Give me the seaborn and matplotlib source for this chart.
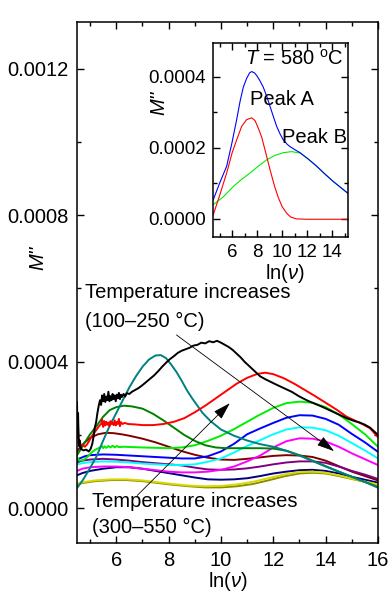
import numpy as np
import pandas as pd
import matplotlib
matplotlib.use("Agg")
import matplotlib.pyplot as plt
from matplotlib.ticker import MultipleLocator, FormatStrFormatter
import seaborn as sns

# ---------------- data (y values in units of 1e-4) ----------------
black_x = [4.50, 4.52, 4.54, 4.57, 4.60, 4.65, 4.75, 4.85, 4.95, 5.02, 5.08, 5.12, 5.18, 5.23, 5.28, 5.33,
           5.38, 5.42, 5.46, 5.50, 5.54, 5.58, 5.62, 5.66, 5.70, 5.74, 5.78, 5.82, 5.86, 5.90, 5.94, 5.98,
           6.02, 6.06, 6.10, 6.14, 6.18, 6.22, 6.28, 6.34, 6.40, 6.50, 6.60, 6.70, 6.85, 7.00, 7.15, 7.30,
           7.45, 7.60, 7.75, 7.90, 8.05, 8.20, 8.35, 8.50, 8.65, 8.80, 8.95, 9.10, 9.25, 9.40, 9.55, 9.70,
           9.85, 10.00, 10.15, 10.30, 10.45, 10.60, 10.75, 10.90, 11.05, 11.20, 11.35, 11.50, 11.70, 11.90,
           12.10, 12.40, 12.70, 13.00, 13.30, 13.60, 13.90, 14.20, 14.50, 14.80, 15.10, 15.30, 15.50, 15.70,
           15.85, 16.00]
black_y = [2.90, 1.95, 2.60, 1.70, 1.85, 1.62, 1.58, 1.60, 1.55, 1.62, 1.75, 1.90, 2.20, 2.35, 2.60, 2.80,
           2.95, 2.82, 3.08, 2.92, 3.12, 2.90, 3.05, 2.95, 3.18, 2.92, 3.06, 2.95, 3.12, 2.98, 3.08, 2.92,
           3.10, 3.00, 3.15, 2.98, 3.10, 3.04, 3.12, 3.05, 3.14, 3.12, 3.18, 3.22, 3.28, 3.36, 3.45, 3.54,
           3.63, 3.74, 3.86, 3.97, 4.07, 4.15, 4.24, 4.30, 4.34, 4.38, 4.44, 4.46, 4.52, 4.50, 4.56, 4.53,
           4.57, 4.52, 4.46, 4.40, 4.32, 4.22, 4.12, 4.00, 3.90, 3.80, 3.70, 3.60, 3.52, 3.45,
           3.38, 3.28, 3.18, 3.05, 2.94, 2.85, 2.76, 2.66, 2.56, 2.46, 2.38, 2.34, 2.28, 2.20,
           2.10, 2.00]

red_x = [4.50, 4.52, 4.54, 4.56, 4.60, 4.65, 4.72, 4.80, 4.88, 4.95, 5.05, 5.15, 5.25, 5.35, 5.42, 5.46,
         5.50, 5.54, 5.58, 5.62, 5.66, 5.70, 5.74, 5.78, 5.82, 5.86, 5.90, 5.94, 5.98, 6.02, 6.06, 6.10,
         6.14, 6.18, 6.24, 6.32, 6.45, 6.70, 7.00, 7.40, 7.80, 8.20, 8.60, 9.00, 9.40, 9.80, 10.20, 10.60,
         11.00, 11.40, 11.70, 12.00, 12.40, 12.80, 13.20, 13.60, 14.00, 14.40, 14.80, 15.10, 15.40, 15.70,
         15.85, 16.00]
red_y = [2.15, 2.05, 2.20, 1.78, 1.85, 1.70, 1.72, 1.68, 1.74, 1.82, 1.95, 2.05, 2.15, 2.25, 2.30, 2.42,
         2.22, 2.38, 2.26, 2.36, 2.28, 2.34, 2.24, 2.38, 2.30, 2.34, 2.27, 2.40, 2.26, 2.36, 2.30, 2.44,
         2.24, 2.35, 2.30, 2.33, 2.30, 2.29, 2.27, 2.27, 2.30, 2.36, 2.46, 2.62, 2.80, 3.00, 3.20, 3.40,
         3.56, 3.67, 3.70, 3.66, 3.55, 3.40, 3.23, 3.06, 2.88, 2.70, 2.50, 2.40, 2.30, 2.18,
         2.06, 1.94]

lime_x = [4.50, 4.60, 4.75, 4.90, 5.05, 5.20, 5.35, 5.45, 5.50, 5.55, 5.62, 5.70, 5.78, 5.86, 5.94, 6.02,
          6.10, 6.30, 6.60, 7.00, 7.50, 8.00, 8.50, 9.00, 9.50, 10.00, 10.50, 11.00, 11.50, 12.00, 12.50,
          13.00, 13.50, 14.00, 14.50, 15.00, 15.50, 16.00]
lime_y = [1.40, 1.30, 1.32, 1.40, 1.52, 1.60, 1.65, 1.70, 1.64, 1.69, 1.65, 1.70, 1.66, 1.71, 1.66, 1.70,
          1.67, 1.68, 1.67, 1.66, 1.65, 1.64, 1.66, 1.72, 1.84, 1.98, 2.16, 2.36, 2.56, 2.74, 2.87,
          2.91, 2.88, 2.76, 2.56, 2.30, 2.02, 1.68]

blue_x = [4.50, 4.60, 4.80, 5.00, 5.50, 6.00, 6.50, 7.00, 7.50, 8.00, 8.50, 9.00, 9.50, 10.00, 10.50,
          11.00, 11.50, 12.00, 12.50, 13.00, 13.50, 14.00, 14.50, 15.00, 15.50, 16.00]
blue_y = [1.30, 1.36, 1.42, 1.45, 1.47, 1.46, 1.44, 1.42, 1.40, 1.38, 1.36, 1.36, 1.42, 1.55, 1.76,
          2.02, 2.18, 2.33, 2.47, 2.54, 2.53, 2.44, 2.28, 2.03, 1.80, 1.54]

cyan_x = [4.50, 4.70, 5.00, 5.50, 6.00, 6.50, 7.00, 7.50, 8.00, 8.50, 9.00, 9.50, 10.00, 10.50, 11.00,
          11.50, 12.00, 12.50, 13.00, 13.50, 14.00, 14.50, 15.00, 15.50, 16.00]
cyan_y = [1.20, 1.23, 1.26, 1.28, 1.27, 1.25, 1.22, 1.20, 1.18, 1.18, 1.20, 1.27, 1.36, 1.52, 1.70,
          1.86, 2.02, 2.15, 2.21, 2.20, 2.13, 1.98, 1.78, 1.58, 1.36]

magenta_x = [4.50, 4.70, 5.00, 5.50, 6.00, 6.50, 7.00, 7.50, 8.00, 8.50, 9.00, 9.50, 10.00, 10.50, 11.00,
             11.50, 12.00, 12.50, 13.00, 13.50, 14.00, 14.50, 15.00, 15.50, 16.00]
magenta_y = [1.02, 1.08, 1.12, 1.14, 1.14, 1.12, 1.08, 1.04, 1.00, 0.98, 0.98, 1.00, 1.05, 1.14, 1.28,
             1.44, 1.66, 1.83, 1.91, 1.90, 1.82, 1.68, 1.50, 1.34, 1.18]

purple_x = [4.50, 4.70, 5.00, 5.50, 6.00, 6.50, 7.00, 7.50, 8.00, 8.50, 9.00, 9.50, 10.00, 10.50, 11.00,
            11.50, 12.00, 12.50, 13.00, 13.50, 14.00, 14.50, 15.00, 15.50, 16.00]
purple_y = [1.25, 1.30, 1.33, 1.35, 1.33, 1.30, 1.26, 1.23, 1.20, 1.17, 1.11, 1.06, 1.05, 1.06, 1.09,
            1.14, 1.20, 1.25, 1.28, 1.28, 1.24, 1.14, 1.02, 0.92, 0.80]

navy_x = [4.50, 4.70, 5.00, 5.50, 6.00, 6.50, 7.00, 7.50, 8.00, 8.50, 9.00, 9.50, 10.00, 10.50, 11.00,
          11.50, 12.00, 12.50, 13.00, 13.50, 14.00, 14.50, 15.00, 15.50, 16.00]
navy_y = [0.90, 0.96, 1.02, 1.08, 1.12, 1.12, 1.08, 1.02, 0.96, 0.90, 0.84, 0.79, 0.78, 0.79, 0.82,
          0.88, 0.95, 1.00, 1.04, 1.05, 1.02, 0.95, 0.86, 0.78, 0.70]

olive_x = [4.50, 4.80, 5.20, 5.80, 6.40, 7.00, 7.60, 8.20, 8.80, 9.40, 10.00, 10.60, 11.20, 11.80, 12.40,
           13.00, 13.50, 14.00, 14.50, 15.00, 15.50, 16.00]
olive_y = [0.66, 0.70, 0.74, 0.77, 0.77, 0.74, 0.69, 0.64, 0.60, 0.57, 0.57, 0.60, 0.66, 0.76, 0.87,
           0.95, 0.97, 0.95, 0.88, 0.80, 0.72, 0.64]

yellow_x = [4.50, 4.80, 5.20, 5.80, 6.40, 7.00, 7.60, 8.20, 8.80, 9.40, 10.00, 10.60, 11.20, 11.80, 12.40,
            13.00, 13.50, 14.00, 14.50, 15.00, 15.50, 16.00]
yellow_y = [0.68, 0.72, 0.76, 0.79, 0.79, 0.76, 0.71, 0.66, 0.62, 0.60, 0.61, 0.65, 0.72, 0.82, 0.92,
            0.99, 1.00, 0.97, 0.90, 0.81, 0.73, 0.65]

maroon_x = [4.50, 4.60, 4.80, 5.00, 5.30, 5.60, 5.90, 6.20, 6.50, 7.00, 7.50, 8.00, 8.50, 9.00, 9.50,
            10.00, 10.50, 11.00, 11.50, 12.00, 12.50, 13.00, 13.50, 14.00, 14.50, 15.00, 15.50, 16.00]
maroon_y = [1.55, 1.65, 1.80, 1.92, 2.02, 2.06, 2.05, 2.02, 1.98, 1.90, 1.80, 1.68, 1.56, 1.46, 1.38,
            1.33, 1.32, 1.35, 1.39, 1.43, 1.45, 1.44, 1.40, 1.30, 1.15, 1.00, 0.88, 0.76]

dgreen_x = [4.50, 4.65, 4.80, 5.00, 5.23, 5.50, 5.75, 6.00, 6.30, 6.60, 7.00, 7.40, 7.80, 8.20, 8.60,
            9.00, 9.40, 9.80, 10.20, 10.60, 11.00, 11.50, 12.00, 12.50, 13.00, 13.50, 14.00, 14.50,
            15.00, 15.50, 16.00]
dgreen_y = [1.45, 1.62, 1.80, 2.02, 2.23, 2.50, 2.68, 2.76, 2.80, 2.78, 2.72, 2.58, 2.40, 2.20, 2.00,
            1.84, 1.72, 1.66, 1.64, 1.64, 1.64, 1.64, 1.63, 1.57, 1.45, 1.30, 1.15, 1.00,
            0.86, 0.72, 0.58]

teal_x = [4.50, 4.75, 5.00, 5.25, 5.50, 5.75, 6.00, 6.25, 6.50, 6.75, 7.00, 7.25, 7.50, 7.70, 7.90,
          8.10, 8.30, 8.50, 8.70, 8.90, 9.10, 9.30, 9.60, 10.00, 10.50, 11.00, 11.50, 12.00, 12.50,
          13.00, 13.50, 14.00, 14.50, 15.00, 15.50, 16.00]
teal_y = [0.55, 0.80, 1.10, 1.42, 1.85, 2.25, 2.60, 2.95, 3.30, 3.60, 3.86, 4.06, 4.17, 4.18, 4.10,
          3.92, 3.72, 3.48, 3.22, 3.00, 2.80, 2.60, 2.38, 2.15, 1.98, 1.85, 1.75, 1.68, 1.57,
          1.44, 1.29, 1.14, 1.00, 0.86, 0.72, 0.56]

# inset (T = 580 C)
in_blue_x = [4.50, 5.00, 5.57, 6.00, 6.37, 6.64, 6.90, 7.17, 7.40, 7.57, 7.80, 7.97, 8.20, 8.50, 8.80,
             9.04, 9.30, 9.57, 9.85, 10.10, 10.40, 10.64, 11.00, 11.44, 12.10, 12.77, 13.40, 14.10,
             14.70, 15.30]
in_blue_y = [0.54, 1.00, 1.48, 2.15, 2.79, 3.30, 3.70, 3.95, 4.10, 4.14, 4.10, 4.03, 3.90, 3.70, 3.42,
             3.16, 2.88, 2.60, 2.38, 2.22, 2.10, 2.03, 1.95, 1.86, 1.68, 1.48, 1.27, 1.05,
             0.88, 0.71]
in_red_x = [4.50, 5.00, 5.57, 6.00, 6.37, 6.77, 7.17, 7.57, 7.84, 8.10, 8.37, 8.70, 9.04, 9.40, 9.70,
            10.00, 10.37, 10.70, 11.17, 12.00, 13.00, 14.00, 15.30]
in_red_y = [0.12, 0.65, 1.29, 1.85, 2.22, 2.60, 2.79, 2.84, 2.76, 2.55, 2.30, 1.85, 1.38, 0.92, 0.60,
            0.35, 0.16, 0.05, 0.00, -0.01, -0.01, -0.01, -0.01]
in_green_x = [4.50, 5.30, 6.10, 6.80, 7.44, 8.10, 8.77, 9.40, 10.10, 10.77, 11.44, 12.10, 12.77, 13.40,
              14.10, 14.70, 15.30]
in_green_y = [0.40, 0.62, 0.91, 1.12, 1.29, 1.48, 1.66, 1.78, 1.86, 1.89, 1.85, 1.68, 1.48, 1.27,
              1.05, 0.88, 0.71]

main_ticks_x = [6, 8, 10, 12, 14, 16]
main_ticks_y = [0.0000, 0.0004, 0.0008, 0.0012]
inset_ticks_x = [6, 8, 10, 12, 14]
inset_ticks_y = [0.0000, 0.0002, 0.0004]

# ---------------- styling ----------------
sns.set_style("ticks")
plt.rcParams['font.family'] = ['Liberation Sans', 'DejaVu Sans']
plt.rcParams['mathtext.fontset'] = 'custom'
plt.rcParams['mathtext.rm'] = 'Liberation Sans'
plt.rcParams['mathtext.it'] = 'Liberation Sans:italic'
plt.rcParams['mathtext.bf'] = 'Liberation Sans:bold'
plt.rcParams['text.color'] = 'black'
plt.rcParams['axes.labelcolor'] = 'black'
plt.rcParams['xtick.color'] = 'black'
plt.rcParams['ytick.color'] = 'black'

FS = 14.5

main_series = [
    ("maroon", maroon_x, maroon_y, "#800000"),
    ("purple", purple_x, purple_y, "#800080"),
    ("navy", navy_x, navy_y, "#000080"),
    ("olive", olive_x, olive_y, "#8c8c00"),
    ("yellow", yellow_x, yellow_y, "#d8d800"),
    ("magenta", magenta_x, magenta_y, "#ff00ff"),
    ("cyan", cyan_x, cyan_y, "#00ffff"),
    ("blue", blue_x, blue_y, "#0000ff"),
    ("lime", lime_x, lime_y, "#00ee00"),
    ("dgreen", dgreen_x, dgreen_y, "#008000"),
    ("teal", teal_x, teal_y, "#008080"),
    ("red", red_x, red_y, "#ff0000"),
    ("black", black_x, black_y, "#000000"),
]
inset_series = [
    ("green", in_green_x, in_green_y, "#00ee00"),
    ("red", in_red_x, in_red_y, "#ff0000"),
    ("blue", in_blue_x, in_blue_y, "#0000ff"),
]

def long_df(series):
    frames = []
    for name, xs, ys, _ in series:
        frames.append(pd.DataFrame({"x": xs, "y": np.array(ys) * 1e-4, "curve": name}))
    return pd.concat(frames, ignore_index=True)

df_main = long_df(main_series)
df_inset = long_df(inset_series)
pal_main = {n: c for n, _, _, c in main_series}
pal_inset = {n: c for n, _, _, c in inset_series}

fig = plt.figure(figsize=(3.9, 5.95), dpi=100)
W, H = 390.0, 595.0
ax = fig.add_axes([77 / W, 1 - 543 / H, 301 / W, 521 / H])
axi = fig.add_axes([213.3 / W, 1 - 236.7 / H, 135 / W, 194 / H])

sns.lineplot(data=df_main, x="x", y="y", hue="curve", palette=pal_main,
             hue_order=[s[0] for s in main_series], sort=False, estimator=None,
             legend=False, linewidth=1.4, ax=ax)
sns.lineplot(data=df_inset, x="x", y="y", hue="curve", palette=pal_inset,
             hue_order=[s[0] for s in inset_series], sort=False, estimator=None,
             legend=False, linewidth=0.8, ax=axi)

def style_axes(a, xt, yt, xminor, yminor, fs, pad):
    a.set_xticks(xt)
    a.set_yticks(yt)
    a.xaxis.set_minor_locator(MultipleLocator(xminor))
    a.yaxis.set_minor_locator(MultipleLocator(yminor))
    a.yaxis.set_major_formatter(FormatStrFormatter('%.4f'))
    a.tick_params(which='both', direction='in', top=True, right=True, width=1.0, colors='black')
    a.tick_params(which='major', length=5, labelsize=fs, pad=pad)
    a.tick_params(which='minor', length=2.8)
    for sp in a.spines.values():
        sp.set_linewidth(1.1)
        sp.set_color('black')
        sp.set_visible(True)
    a.set_facecolor('white')

style_axes(ax, main_ticks_x, main_ticks_y, 1, 0.0002, FS, 6)
ax.set_xlim(4.5, 16)
ax.set_ylim(-0.0000947, 0.001327)
ax.set_xlabel(r"ln($\nu$)", fontsize=FS)
ax.set_ylabel("M''", fontsize=FS, fontstyle='italic')
ax.xaxis.set_label_coords(0.502, -0.052)
ax.yaxis.set_label_coords(-0.10, 0.547)

style_axes(axi, inset_ticks_x, inset_ticks_y, 1, 0.0001, 13.5, 5)
axi.set_xlim(4.5, 15.3)
axi.set_ylim(-0.00005, 0.000495)
axi.set_xlabel(r"ln($\nu$)", fontsize=FS)
axi.set_ylabel("M''", fontsize=FS, fontstyle='italic')
axi.xaxis.set_label_coords(0.53, -0.13)
axi.yaxis.set_label_coords(-0.33, 0.69)

# annotations
ax.text(4.81, 5.74e-4, "Temperature increases", fontsize=FS, va='baseline', ha='left')
ax.text(4.81, 4.96e-4, "(100\u2013250 \u00b0C)", fontsize=FS, va='baseline', ha='left')
ax.text(5.06, 0.04e-4, "Temperature increases", fontsize=FS, va='baseline', ha='left')
ax.text(5.06, -0.68e-4, "(300\u2013550 \u00b0C)", fontsize=FS, va='baseline', ha='left')

arrow_style = dict(arrowstyle='-|>,head_length=0.6,head_width=0.18', color='black',
                   lw=0.6, mutation_scale=18, shrinkA=0, shrinkB=0)
ax.annotate("", xy=(14.32, 1.56e-4), xytext=(8.30, 4.73e-4), arrowprops=arrow_style)
ax.annotate("", xy=(10.34, 2.87e-4), xytext=(6.80, 0.35e-4), arrowprops=arrow_style)

axi.text(7.04, 4.33e-4, r"$\it{T}$ = 580 $^{\rm o}$C", fontsize=FS, va='baseline', ha='left')
axi.text(7.44, 3.21e-4, "Peak A", fontsize=FS, va='baseline', ha='left')
axi.text(9.97, 2.13e-4, "Peak B", fontsize=FS, va='baseline', ha='left')

fig.savefig("out.png", dpi=100, facecolor='white')
